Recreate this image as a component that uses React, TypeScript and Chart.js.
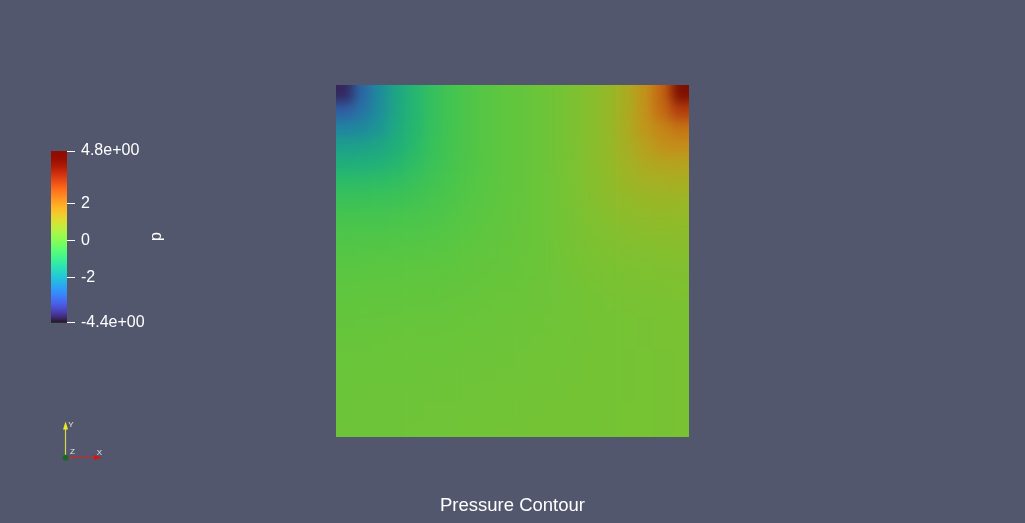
import { useEffect, useRef } from 'react';
import { Chart, registerables } from 'chart.js';

Chart.register(...registerables);

// ---------------- data ----------------
const titleText = 'Pressure Contour';
const scalarName = 'p';
const pRange = [-4.4, 4.8];
const colorbarTicks = [-4.4, -2, 0, 2, 4.8];
const colorbarTickLabels = ['-4.4e+00', '-2', '0', '2', '4.8e+00'];

// pressure read on a 20 x 20 grid, rows listed from the top (lid) to the bottom
const row00 = [-4.00, -2.91, -2.24, -1.66, -1.25, -0.86, -0.58, -0.39, -0.24, -0.11, -0.04, 0.08, 0.19, 0.33, 0.52, 0.73, 1.12, 1.69, 2.51, 4.20];
const row01 = [-3.04, -2.70, -2.21, -1.64, -1.25, -0.86, -0.58, -0.39, -0.24, -0.11, -0.04, 0.08, 0.19, 0.33, 0.52, 0.73, 1.12, 1.67, 2.39, 3.13];
const row02 = [-2.38, -2.31, -2.03, -1.57, -1.22, -0.84, -0.58, -0.39, -0.24, -0.11, -0.04, 0.08, 0.19, 0.33, 0.52, 0.73, 1.10, 1.60, 1.92, 2.22];
const row03 = [-1.83, -1.80, -1.68, -1.45, -1.15, -0.79, -0.56, -0.38, -0.24, -0.11, -0.04, 0.08, 0.19, 0.33, 0.51, 0.71, 1.04, 1.38, 1.70, 1.77];
const row04 = [-1.48, -1.46, -1.39, -1.23, -0.98, -0.74, -0.52, -0.36, -0.23, -0.10, -0.04, 0.08, 0.19, 0.32, 0.50, 0.69, 0.94, 1.19, 1.28, 1.32];
const row05 = [-1.07, -1.06, -1.02, -0.93, -0.78, -0.62, -0.49, -0.33, -0.21, -0.10, -0.03, 0.08, 0.18, 0.32, 0.47, 0.64, 0.80, 0.97, 1.03, 1.06];
const row06 = [-0.76, -0.75, -0.72, -0.68, -0.62, -0.50, -0.40, -0.29, -0.19, -0.09, -0.02, 0.08, 0.17, 0.31, 0.44, 0.58, 0.69, 0.77, 0.80, 0.82];
const row07 = [-0.54, -0.53, -0.52, -0.50, -0.46, -0.40, -0.32, -0.23, -0.14, -0.07, -0.01, 0.07, 0.17, 0.28, 0.38, 0.49, 0.59, 0.65, 0.67, 0.69];
const row08 = [-0.40, -0.39, -0.38, -0.35, -0.33, -0.30, -0.25, -0.17, -0.10, -0.05, 0.00, 0.07, 0.17, 0.26, 0.35, 0.42, 0.49, 0.53, 0.56, 0.58];
const row09 = [-0.28, -0.27, -0.26, -0.25, -0.23, -0.21, -0.17, -0.11, -0.07, -0.02, 0.01, 0.07, 0.16, 0.24, 0.31, 0.36, 0.41, 0.43, 0.46, 0.48];
const row10 = [-0.18, -0.17, -0.16, -0.15, -0.13, -0.12, -0.10, -0.07, -0.03, 0.00, 0.03, 0.08, 0.15, 0.21, 0.27, 0.30, 0.34, 0.37, 0.39, 0.41];
const row11 = [-0.12, -0.11, -0.10, -0.09, -0.08, -0.07, -0.05, -0.03, 0.00, 0.03, 0.05, 0.10, 0.15, 0.19, 0.25, 0.28, 0.31, 0.33, 0.35, 0.37];
const row12 = [-0.07, -0.06, -0.05, -0.04, -0.03, -0.03, -0.01, 0.01, 0.03, 0.06, 0.08, 0.11, 0.14, 0.17, 0.21, 0.24, 0.27, 0.29, 0.30, 0.32];
const row13 = [-0.03, -0.02, -0.01, 0.00, 0.01, 0.01, 0.02, 0.04, 0.06, 0.09, 0.10, 0.13, 0.15, 0.17, 0.20, 0.22, 0.24, 0.26, 0.28, 0.30];
const row14 = [0.01, 0.02, 0.03, 0.04, 0.05, 0.05, 0.06, 0.08, 0.09, 0.11, 0.12, 0.14, 0.16, 0.18, 0.19, 0.21, 0.24, 0.26, 0.27, 0.29];
const row15 = [0.04, 0.05, 0.06, 0.07, 0.08, 0.08, 0.09, 0.10, 0.11, 0.13, 0.14, 0.16, 0.17, 0.19, 0.20, 0.21, 0.23, 0.25, 0.26, 0.28];
const row16 = [0.06, 0.07, 0.08, 0.08, 0.09, 0.10, 0.11, 0.12, 0.13, 0.14, 0.15, 0.16, 0.18, 0.19, 0.20, 0.22, 0.23, 0.25, 0.26, 0.28];
const row17 = [0.08, 0.09, 0.10, 0.10, 0.11, 0.12, 0.13, 0.14, 0.15, 0.16, 0.17, 0.18, 0.19, 0.20, 0.21, 0.22, 0.23, 0.25, 0.26, 0.28];
const row18 = [0.09, 0.10, 0.11, 0.12, 0.13, 0.14, 0.14, 0.15, 0.16, 0.17, 0.18, 0.19, 0.20, 0.21, 0.22, 0.23, 0.24, 0.25, 0.26, 0.28];
const row19 = [0.10, 0.11, 0.12, 0.13, 0.14, 0.15, 0.15, 0.16, 0.17, 0.18, 0.19, 0.20, 0.20, 0.21, 0.22, 0.23, 0.24, 0.25, 0.26, 0.27];

const pressureRows = [row00, row01, row02, row03, row04, row05, row06, row07, row08, row09,
  row10, row11, row12, row13, row14, row15, row16, row17, row18, row19];

// ---------------- styling ----------------
const BG = 'rgb(82,87,110)';
const FONT = "'Liberation Sans', Arial, Helvetica, sans-serif";
const SHADE = [0.767, 0.78, 0.667]; // lit surface vs. unlit colour legend

function turbo(t: number): [number, number, number] {
  const x = Math.min(1, Math.max(0, t));
  const r = 0.13572138 + x * (4.61539260 + x * (-42.66032258 + x * (132.13108234 + x * (-152.94239396 + x * 59.28637943))));
  const g = 0.09140261 + x * (2.19418839 + x * (4.84296658 + x * (-14.18503333 + x * (4.27729857 + x * 2.82956604))));
  const b = 0.10667330 + x * (12.64194608 + x * (-60.58204836 + x * (110.36276771 + x * (-89.90310912 + x * 27.34824973))));
  const c = (v: number) => Math.min(1, Math.max(0, v));
  return [c(r), c(g), c(b)];
}

function colorFor(v: number, k: number[]) {
  const t = (v - pRange[0]) / (pRange[1] - pRange[0]);
  const [r, g, b] = turbo(t);
  return `rgb(${Math.round(r * 255 * k[0])},${Math.round(g * 255 * k[1])},${Math.round(b * 255 * k[2])})`;
}

// smooth (Gouraud-like) shading of the cell mosaic inside the plot area
const smoothPlugin = {
  id: 'smoothShading',
  afterDatasetsDraw(chart: any) {
    const ca = chart.chartArea;
    const L = Math.round(ca.left);
    const T = Math.round(ca.top);
    const W = Math.round(ca.right - ca.left);
    const H = Math.round(ca.bottom - ca.top);
    const m = 18;
    const off = document.createElement('canvas');
    off.width = W + 2 * m;
    off.height = H + 2 * m;
    const o = off.getContext('2d');
    if (!o) return;
    o.imageSmoothingEnabled = false;
    const src = chart.canvas as HTMLCanvasElement;
    o.drawImage(src, L, T, W, H, m, m, W, H);
    o.drawImage(src, L, T, W, 1, m, 0, W, m);
    o.drawImage(src, L, T + H - 1, W, 1, m, m + H, W, m);
    o.drawImage(src, L, T, 1, H, 0, m, m, H);
    o.drawImage(src, L + W - 1, T, 1, H, m + W, m, m, H);
    o.drawImage(src, L, T, 1, 1, 0, 0, m, m);
    o.drawImage(src, L + W - 1, T, 1, 1, m + W, 0, m, m);
    o.drawImage(src, L, T + H - 1, 1, 1, 0, m + H, m, m);
    o.drawImage(src, L + W - 1, T + H - 1, 1, 1, m + W, m + H, m, m);
    const ctx = chart.ctx as CanvasRenderingContext2D;
    ctx.save();
    ctx.beginPath();
    ctx.rect(L, T, W, H);
    ctx.clip();
    (ctx as any).filter = 'blur(6px)';
    ctx.drawImage(off, L - m, T - m);
    ctx.restore();
  },
};

const overlayPlugin = {
  id: 'legendTitleAndTriad',
  afterDraw(chart: any) {
    const ctx = chart.ctx as CanvasRenderingContext2D;
    ctx.save();
    ctx.translate(157, 236.5);
    ctx.rotate(-Math.PI / 2);
    ctx.fillStyle = '#ffffff';
    ctx.font = `16px ${FONT}`;
    ctx.textAlign = 'center';
    ctx.textBaseline = 'middle';
    ctx.fillText(scalarName, 0, 0);
    ctx.restore();

    // orientation axes
    ctx.save();
    ctx.lineWidth = 1.2;
    ctx.strokeStyle = 'rgb(215,215,80)';
    ctx.beginPath();
    ctx.moveTo(65.5, 457);
    ctx.lineTo(65.5, 428);
    ctx.stroke();
    ctx.fillStyle = 'rgb(235,235,30)';
    ctx.beginPath();
    ctx.moveTo(63, 429.5);
    ctx.lineTo(68, 429.5);
    ctx.lineTo(65.5, 421.5);
    ctx.closePath();
    ctx.fill();

    ctx.strokeStyle = 'rgb(205,40,40)';
    ctx.beginPath();
    ctx.moveTo(66, 457.5);
    ctx.lineTo(95, 457.5);
    ctx.stroke();
    ctx.fillStyle = 'rgb(215,20,20)';
    ctx.beginPath();
    ctx.moveTo(94, 455);
    ctx.lineTo(94, 460);
    ctx.lineTo(102, 457.5);
    ctx.closePath();
    ctx.fill();

    ctx.fillStyle = 'rgb(25,105,35)';
    ctx.beginPath();
    ctx.arc(65.5, 457.8, 3, 0, Math.PI * 2);
    ctx.fill();

    ctx.fillStyle = '#e6e6e6';
    ctx.font = `8px ${FONT}`;
    ctx.textAlign = 'left';
    ctx.textBaseline = 'middle';
    ctx.fillText('Y', 68.3, 424.8);
    ctx.fillText('Z', 70, 452.2);
    ctx.fillText('X', 96.8, 452.8);
    ctx.restore();
  },
};

export default function App() {
  const mainRef = useRef<HTMLCanvasElement>(null);
  const barRef = useRef<HTMLCanvasElement>(null);

  useEffect(() => {
    document.body.style.margin = '0';
    document.body.style.background = BG;
    Chart.defaults.font.family = FONT;

    const nRows = pressureRows.length;
    const nCols = pressureRows[0].length;
    const points: { x: number; y: number; v: number }[] = [];
    pressureRows.forEach((row, ri) => {
      row.forEach((v, ci) => {
        points.push({ x: (ci + 0.5) / nCols, y: 1 - (ri + 0.5) / nRows, v });
      });
    });
    const cellColors = points.map((p) => colorFor(p.v, SHADE));

    const main = new Chart(mainRef.current!, {
      type: 'scatter',
      data: {
        datasets: [
          {
            data: points,
            backgroundColor: cellColors,
            pointStyle: 'rect',
            pointRadius: 12.9,
            pointHoverRadius: 12.9,
            pointBorderWidth: 0,
            borderWidth: 0,
            clip: 0,
          } as any,
        ],
      },
      options: {
        animation: false,
        responsive: false,
        events: [],
        layout: { padding: { left: 336, right: 336, top: 85, bottom: 0 } },
        scales: {
          x: { type: 'linear', min: 0, max: 1, display: false },
          y: { type: 'linear', min: 0, max: 1, display: false },
        },
        plugins: {
          legend: { display: false },
          tooltip: { enabled: false },
          title: {
            display: true,
            text: titleText,
            position: 'bottom',
            color: '#ffffff',
            font: { size: 18.5, weight: 'normal', family: FONT, lineHeight: 1.2 },
            padding: { top: 57.6, bottom: 6.2 },
          },
        },
      },
      plugins: [smoothPlugin],
    });

    const bar = new Chart(barRef.current!, {
      type: 'bar',
      data: {
        labels: [scalarName],
        datasets: [
          {
            data: [[pRange[0], pRange[1]]],
            backgroundColor: (c: any) => {
              const chart = c.chart;
              const ys = chart.scales?.y;
              if (!chart.chartArea || !ys) return colorFor(0, [1, 1, 1]);
              const g = chart.ctx.createLinearGradient(0, ys.getPixelForValue(pRange[0]), 0, ys.getPixelForValue(pRange[1]));
              const n = 64;
              for (let i = 0; i <= n; i++) {
                const v = pRange[0] + (i / n) * (pRange[1] - pRange[0]);
                g.addColorStop(i / n, colorFor(v, [1, 1, 1]));
              }
              return g;
            },
            borderWidth: 0,
            borderSkipped: false,
            barPercentage: 1,
            categoryPercentage: 1,
          } as any,
        ],
      },
      options: {
        animation: false,
        responsive: false,
        events: [],
        layout: { padding: { left: 51, top: 151, bottom: 523 - 322.7, right: 1025 - 67 - 80 } },
        scales: {
          x: { display: false },
          y: {
            position: 'right',
            min: pRange[0],
            max: pRange[1],
            border: { display: false },
            grid: {
              drawOnChartArea: false,
              drawTicks: true,
              tickLength: 8,
              color: '#ffffff',
              tickColor: '#ffffff',
              lineWidth: 1,
            },
            ticks: {
              color: '#ffffff',
              font: { size: 16, family: FONT },
              padding: 6,
              autoSkip: false,
              maxRotation: 0,
              callback: (value: any) => {
                const i = colorbarTicks.findIndex((t) => Math.abs(t - Number(value)) < 1e-9);
                return i >= 0 ? colorbarTickLabels[i] : '';
              },
            },
            afterBuildTicks: (scale: any) => {
              scale.ticks = colorbarTicks.map((v) => ({ value: v }));
            },
            afterFit: (scale: any) => {
              scale.width = 80;
            },
          } as any,
        },
        plugins: {
          legend: { display: false },
          tooltip: { enabled: false },
        },
      },
      plugins: [overlayPlugin],
    });

    return () => {
      main.destroy();
      bar.destroy();
    };
  }, []);

  return (
    <div style={{ position: 'fixed', left: 0, top: 0, width: 1025, height: 523, background: BG, overflow: 'hidden' }}>
      <canvas ref={mainRef} width={1025} height={523} style={{ position: 'absolute', left: 0, top: 0, width: 1025, height: 523 }} />
      <canvas ref={barRef} width={1025} height={523} style={{ position: 'absolute', left: 0, top: 0, width: 1025, height: 523 }} />
    </div>
  );
}
